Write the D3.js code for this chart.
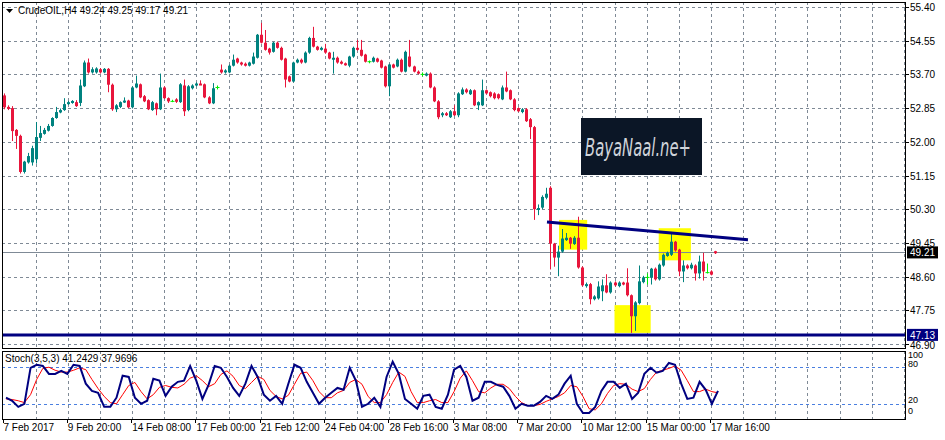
<!DOCTYPE html>
<html><head><meta charset="utf-8">
<script src="https://cdn.jsdelivr.net/npm/d3@7"></script>
<style>body{margin:0;background:#fff}svg{display:block;font-family:"Liberation Sans",Arial,sans-serif}</style>
</head><body><svg id="c" width="945" height="440"></svg>
<script>
const opens=[53.17,52.88,52.85,52.30,52.15,51.24,51.48,51.48,51.56,52.10,52.20,52.28,52.40,52.60,52.74,52.80,52.95,52.98,53.00,52.98,53.40,54.00,53.75,53.75,53.83,53.75,53.84,53.44,52.82,52.88,53.01,53.04,52.87,53.37,53.45,53.15,53.05,52.80,52.97,52.82,53.37,53.10,53.02,53.07,53.00,53.42,52.80,53.35,53.42,53.47,53.45,53.12,52.97,53.37,53.82,53.75,53.75,53.92,54.10,54.00,53.97,53.92,53.97,54.12,54.70,54.50,54.35,54.27,54.50,54.37,54.10,53.65,53.52,54.00,54.07,54.00,54.25,54.62,54.40,54.32,54.35,54.25,54.10,54.12,54.02,53.98,53.92,54.15,54.37,54.32,54.20,54.02,54.02,54.10,54.05,53.90,53.40,53.95,53.90,54.07,53.77,54.15,53.90,53.77,53.70,53.67,53.72,53.37,53.02,52.67,52.72,52.62,52.77,52.67,53.20,53.32,53.20,53.30,52.92,52.92,53.30,53.25,53.22,53.20,53.07,53.37,53.30,53.07,52.85,52.75,52.82,52.57,52.37,50.30,50.34,50.59,50.84,49.43,49.08,49.23,49.52,49.58,49.42,49.58,48.83,48.38,48.41,48.03,48.05,48.23,48.38,48.20,48.45,48.36,48.45,48.45,48.13,47.60,47.93,48.46,48.58,48.58,48.80,48.53,48.88,49.12,49.15,49.48,49.28,48.73,48.88,48.81,48.88,48.68,48.98,48.70,48.73,49.24];
const highs=[53.22,52.92,52.90,52.32,52.18,51.52,51.72,51.90,52.50,52.40,52.35,52.45,52.62,52.88,52.84,53.10,53.03,53.05,53.05,53.57,54.05,54.10,53.88,53.88,53.86,53.86,53.86,53.47,52.95,53.02,53.12,53.06,53.40,53.67,53.47,53.18,53.07,53.03,52.99,53.72,53.40,53.12,53.06,53.10,53.48,53.57,53.43,53.45,53.50,53.55,53.47,53.15,53.48,53.42,53.95,53.83,53.95,54.20,54.12,54.02,54.00,54.02,54.25,54.72,55.00,54.82,54.37,54.52,54.53,54.40,54.12,53.67,54.02,54.10,54.10,54.28,54.65,54.90,54.42,54.40,54.47,54.27,54.27,54.15,54.05,54.00,54.17,54.40,54.57,54.57,54.22,54.05,54.15,54.12,54.07,53.92,53.97,53.97,54.10,54.10,54.30,54.57,53.92,53.80,53.75,53.75,53.75,53.40,53.05,52.75,52.75,52.80,52.92,53.25,53.37,53.35,53.33,53.32,53.02,53.57,53.32,53.27,53.25,53.22,53.42,53.77,53.32,53.10,52.87,52.85,52.85,52.60,52.40,50.42,50.65,50.84,50.88,49.45,49.38,49.80,49.70,49.60,49.62,50.11,48.86,48.45,48.44,48.13,48.48,48.53,48.66,48.48,48.48,48.48,48.47,48.81,48.15,47.98,48.88,48.62,48.68,48.82,48.83,48.93,49.18,49.23,49.68,49.50,49.30,49.01,48.91,48.95,48.91,49.13,49.20,48.93,48.76,49.25];
const lows=[52.82,52.80,52.02,51.82,51.20,51.20,51.45,51.40,51.45,52.02,52.18,52.26,52.38,52.58,52.72,52.78,52.93,52.96,52.88,52.90,53.38,53.72,53.72,53.72,53.72,53.73,53.25,52.78,52.75,52.85,52.98,52.85,52.84,53.35,53.10,53.00,52.80,52.78,52.67,52.80,53.08,52.98,53.00,52.98,52.98,52.65,52.77,53.32,53.40,53.43,53.10,52.95,52.95,53.32,53.72,53.72,53.73,53.90,53.97,53.92,53.90,53.90,53.95,54.10,54.48,54.30,54.20,54.25,54.35,54.05,53.37,53.50,53.50,53.98,53.97,53.98,54.22,54.38,54.30,54.30,54.22,54.08,53.72,53.97,53.95,53.92,53.88,54.12,54.30,54.15,54.00,53.98,54.00,54.00,53.85,53.37,53.15,53.85,53.88,53.75,53.75,53.88,53.75,53.70,53.65,53.65,53.35,53.00,52.57,52.62,52.65,52.60,52.65,52.62,53.18,53.22,53.18,52.90,52.80,52.90,53.20,53.12,53.07,53.07,53.05,53.25,53.05,52.77,52.75,52.72,52.50,52.07,50.03,50.15,50.30,50.55,48.78,48.85,48.61,49.20,49.50,49.30,49.40,48.80,48.35,48.32,47.90,48.00,48.02,47.98,48.18,48.17,48.35,48.33,48.38,48.10,47.18,47.23,47.90,48.43,48.40,48.40,48.50,48.50,48.85,49.10,49.12,49.23,48.61,48.46,48.78,48.78,48.50,48.55,48.50,48.68,48.63,49.17];
const closes=[52.87,52.83,52.27,52.15,51.24,51.50,51.64,51.84,52.12,52.22,52.30,52.40,52.60,52.75,52.80,52.95,53.00,53.03,52.90,53.42,54.00,53.75,53.83,53.85,53.75,53.84,53.44,52.82,52.92,53.00,53.04,52.87,53.37,53.47,53.12,53.02,52.82,53.00,52.82,53.37,53.10,53.02,53.02,53.01,53.45,52.77,53.40,53.42,53.47,53.45,53.12,52.97,53.35,53.37,53.75,53.80,53.92,54.07,54.00,53.95,53.92,54.00,54.15,54.70,54.50,54.32,54.25,54.50,54.37,54.07,53.57,53.52,54.00,54.07,54.00,54.25,54.62,54.40,54.32,54.37,54.25,54.10,54.12,54.00,53.97,53.95,54.15,54.37,54.32,54.17,54.02,54.02,54.12,54.02,53.87,53.40,53.95,53.87,54.07,53.77,54.27,53.90,53.77,53.72,53.70,53.72,53.37,53.02,52.62,52.72,52.67,52.77,52.67,53.22,53.32,53.25,53.30,52.92,53.00,53.30,53.22,53.15,53.10,53.10,53.37,53.27,53.07,52.80,52.77,52.82,52.52,52.37,50.30,50.33,50.61,50.69,49.43,49.08,49.23,49.56,49.58,49.43,49.58,48.83,48.38,48.41,48.03,48.10,48.35,48.38,48.20,48.45,48.38,48.45,48.41,48.13,47.60,47.95,48.48,48.58,48.58,48.80,48.53,48.90,49.15,49.20,49.48,49.26,48.73,48.88,48.81,48.90,48.68,48.98,48.73,48.70,48.65,49.21];
const dojiIdx=[42,53,91,104,160,175];
const priceTicks=[55.40,54.55,53.70,52.85,52.00,51.15,50.30,49.45,48.60,47.75,46.90];
const dateLabels=["7 Feb 2017","9 Feb 20:00","14 Feb 08:00","17 Feb 00:00","21 Feb 12:00","24 Feb 04:00","28 Feb 16:00","3 Mar 08:00","7 Mar 20:00","10 Mar 12:00","15 Mar 00:00","17 Mar 16:00"];
const stochMain=[30,25,15,20,79,84,82,69,69,74,69,84,82,53,41,38,15,15,30,66,64,30,20,25,61,58,33,48,56,58,82,58,28,51,82,79,64,46,33,53,82,64,35,25,33,20,53,84,79,56,38,20,30,38,46,43,79,58,15,20,30,15,64,89,69,28,20,12,33,35,15,12,35,76,82,64,25,30,56,56,51,48,33,12,20,17,17,23,33,28,35,53,66,20,5,5,15,41,56,56,46,53,28,38,69,79,71,74,87,84,53,28,30,56,43,20,41.24];
const stochSignal=[28,27,25,22,35,60,78,80,75,72,72,75,79,76,60,45,32,22,20,35,50,55,40,28,35,47,50,47,46,52,62,66,58,48,53,68,74,65,50,45,55,65,60,42,32,28,34,52,70,72,58,40,30,30,38,42,55,60,52,32,22,22,35,55,72,65,40,22,22,25,27,22,22,40,62,74,58,40,38,46,52,52,45,32,22,17,17,19,24,28,32,38,50,48,32,12,10,20,37,50,53,52,44,40,45,60,72,75,78,82,75,58,40,40,44,40,37.97];
const stochLevels=[80,20];
const stochTicks=[100,80,20,0];
const trendLine=[{i:135.2,p:49.98},{i:185.2,p:49.53}];
const supportPrice=47.13, lastPrice=49.21;
const boxes=[{i0:138.2,i1:145.2,p0:50.03,p1:49.28},{i0:163,i1:171,p0:49.82,p1:49.01},{i0:152,i1:161,p0:47.88,p1:47.18}];

const svg=d3.select("#c");
const L=2,R=905,T=2,B=348,ST=351,SB=419;
const x=d3.scaleLinear().domain([0,177]).range([3.5,715]);
const y=d3.scaleLinear().domain([46.90,55.40]).range([344,7]);
const ys=d3.scaleLinear().domain([0,100]).range([416,355]);
const xs=d3.scaleLinear().domain([0,stochMain.length-1]).range([6,718]);
const gridC="#7f8a96";
const vg=d3.range(8,226,8).map(i=>x(i)).filter(v=>v<R);
svg.append("g").selectAll("line").data(priceTicks).join("line")
 .attr("x1",L).attr("x2",R).attr("y1",d=>Math.round(y(d))+.5).attr("y2",d=>Math.round(y(d))+.5)
 .attr("stroke",gridC).attr("stroke-dasharray","3,3");
svg.append("g").selectAll("line").data(vg).join("line")
 .attr("x1",d=>Math.round(d)+.5).attr("x2",d=>Math.round(d)+.5).attr("y1",T).attr("y2",B)
 .attr("stroke",gridC).attr("stroke-dasharray","3,3");
svg.append("g").selectAll("line").data(vg).join("line")
 .attr("x1",d=>Math.round(d)+.5).attr("x2",d=>Math.round(d)+.5).attr("y1",ST).attr("y2",SB)
 .attr("stroke",gridC).attr("stroke-dasharray","3,3");
svg.append("g").selectAll("line").data(stochLevels).join("line")
 .attr("x1",L).attr("x2",R).attr("y1",d=>Math.round(ys(d))+.5).attr("y2",d=>Math.round(ys(d))+.5)
 .attr("stroke","#4a7fe0").attr("stroke-dasharray","3,3");
svg.append("g").selectAll("rect").data(boxes).join("rect")
 .attr("x",d=>x(d.i0)).attr("width",d=>x(d.i1)-x(d.i0)).attr("y",d=>y(d.p0)).attr("height",d=>y(d.p1)-y(d.p0)).attr("fill","#ffff00");
svg.append("line").attr("x1",L).attr("x2",R).attr("y1",Math.round(y(lastPrice))+.5).attr("y2",Math.round(y(lastPrice))+.5).attr("stroke","#7f8a96");
const lg=svg.append("g");
lg.append("rect").attr("x",581).attr("y",118).attr("width",121).attr("height",57).attr("fill","#0b1626");
lg.append("text").attr("x",585).attr("y",156).attr("fill","#d0d4da").attr("font-size",24).attr("font-style","italic").attr("font-family","DejaVu Sans Condensed, DejaVu Sans").attr("textLength",106).attr("lengthAdjust","spacingAndGlyphs").text("BayaNaal.ne+");
const data=opens.map((o,i)=>({i,o,h:highs[i],l:lows[i],c:closes[i]}));
const cg=svg.append("g");
data.forEach(d=>{
  const cx=Math.round(x(d.i))+.5;
  const doji=dojiIdx.includes(d.i);
  const col=doji?"#00ee00":(d.c>=d.o?"#00827f":"#e8163c");
  cg.append("line").attr("x1",cx).attr("x2",cx).attr("y1",y(d.h)).attr("y2",y(d.l)).attr("stroke",col);
  if(doji){cg.append("line").attr("x1",cx-2).attr("x2",cx+2).attr("y1",y(d.c)).attr("y2",y(d.c)).attr("stroke",col);}
  else{const t=y(Math.max(d.o,d.c)),b=y(Math.min(d.o,d.c));
  cg.append("rect").attr("x",cx-1.5).attr("width",3).attr("y",t).attr("height",Math.max(2,b-t)).attr("fill",col);}
});
svg.append("line").attr("x1",x(trendLine[0].i)).attr("y1",y(trendLine[0].p)).attr("x2",x(trendLine[1].i)).attr("y2",y(trendLine[1].p)).attr("stroke","#000080").attr("stroke-width",3);
svg.append("line").attr("x1",L).attr("x2",R).attr("y1",y(supportPrice)).attr("y2",y(supportPrice)).attr("stroke","#000080").attr("stroke-width",3);
const ln=d3.line().x((d,i)=>xs(i)).y(d=>ys(d));
svg.append("path").attr("d",ln(stochSignal)).attr("fill","none").attr("stroke","#ff0000").attr("stroke-width",1);
svg.append("path").attr("d",ln(stochMain)).attr("fill","none").attr("stroke","#000080").attr("stroke-width",2);
svg.append("rect").attr("x",L+.5).attr("y",T+.5).attr("width",R-L).attr("height",B-T).attr("fill","none").attr("stroke","#000");
svg.append("rect").attr("x",L+.5).attr("y",ST+.5).attr("width",R-L).attr("height",SB-ST).attr("fill","none").attr("stroke","#000");
svg.append("g").selectAll("text").data(priceTicks.filter(d=>d!==46.90)).join("text").attr("x",910).attr("y",d=>y(d)+4).attr("font-size",10).attr("fill","#000").text(d=>d.toFixed(2));
svg.append("text").attr("x",910).attr("y",349).attr("font-size",10).text("46.90");
svg.append("g").selectAll("line").data(priceTicks).join("line").attr("x1",R).attr("x2",R+4).attr("y1",d=>Math.round(y(d))+.5).attr("y2",d=>Math.round(y(d))+.5).attr("stroke","#000");
function tag(p,bg){const yy=y(p);svg.append("rect").attr("x",907).attr("y",yy-6).attr("width",31).attr("height",12).attr("fill",bg);
 svg.append("text").attr("x",910).attr("y",yy+4).attr("font-size",10).attr("fill","#fff").text(p.toFixed(2));}
tag(lastPrice,"#000");tag(supportPrice,"#000080");
svg.append("g").selectAll("text").data(stochTicks).join("text").attr("x",908).attr("y",d=>d===100?358:d===80?367:d===20?403:414).attr("font-size",9).text(d=>d);
svg.append("g").selectAll("line").data(dateLabels).join("line").attr("x1",(d,k)=>Math.round(x(16*k))-.5).attr("x2",(d,k)=>Math.round(x(16*k))-.5).attr("y1",SB).attr("y2",SB+4).attr("stroke","#000");
svg.append("g").selectAll("text").data(dateLabels).join("text").attr("x",(d,k)=>x(16*k)).attr("y",431).attr("font-size",10).text(d=>d);
svg.append("path").attr("d","M6,9 L13,9 L9.5,13 Z").attr("fill","#000");
svg.append("text").attr("x",18).attr("y",14).attr("font-size",10).text("CrudeOIL,H4  49.24 49.25 49.17 49.21");
svg.append("text").attr("x",5).attr("y",362).attr("font-size",10).text("Stoch(3,5,3) 41.2429 37.9696");
</script></body></html>
